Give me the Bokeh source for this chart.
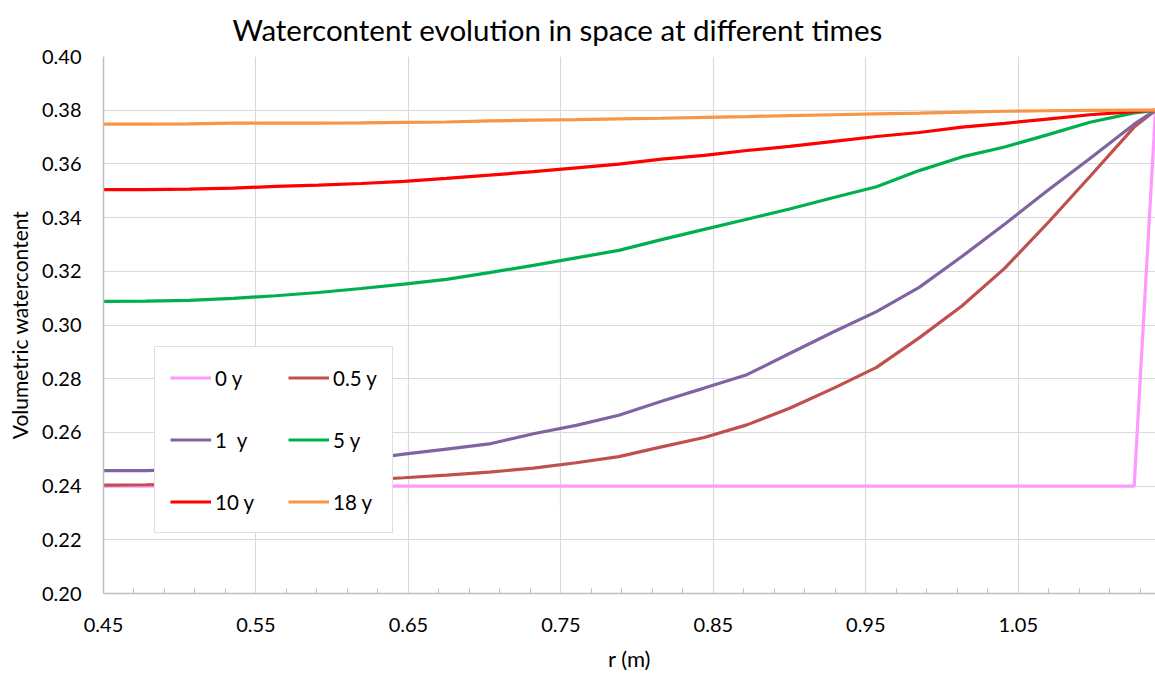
from bokeh.plotting import figure
from bokeh.models import Range1d, FixedTicker, PrintfTickFormatter, Legend, LegendItem
from bokeh.embed import file_html
from bokeh.resources import INLINE

# radial position (m)
r_m = [0.450, 0.478, 0.506, 0.535, 0.563, 0.591, 0.619, 0.647, 0.675, 0.703,
       0.732, 0.760, 0.788, 0.816, 0.844, 0.872, 0.900, 0.929, 0.957, 0.985,
       1.013, 1.041, 1.069, 1.097, 1.126, 1.140]

wc_0y = [0.2400, 0.2400, 0.2400, 0.2400, 0.2400, 0.2400, 0.2400, 0.2400, 0.2400, 0.2400,
         0.2400, 0.2400, 0.2400, 0.2400, 0.2400, 0.2400, 0.2400, 0.2400, 0.2400, 0.2400,
         0.2400, 0.2400, 0.2400, 0.2400, 0.2400, 0.3800]

wc_05y = [0.2404, 0.2405, 0.2407, 0.2410, 0.2413, 0.2417, 0.2422, 0.2431, 0.2441, 0.2452,
          0.2467, 0.2487, 0.2510, 0.2546, 0.2581, 0.2628, 0.2690, 0.2765, 0.2842, 0.2952,
          0.3071, 0.3211, 0.3378, 0.3553, 0.3737, 0.3800]

wc_1y = [0.2458, 0.2458, 0.2462, 0.2468, 0.2476, 0.2486, 0.2498, 0.2519, 0.2538, 0.2557,
         0.2595, 0.2626, 0.2664, 0.2716, 0.2765, 0.2815, 0.2894, 0.2975, 0.3050, 0.3140,
         0.3255, 0.3375, 0.3500, 0.3620, 0.3748, 0.3800]

wc_5y = [0.3088, 0.3089, 0.3092, 0.3099, 0.3109, 0.3121, 0.3136, 0.3152, 0.3170, 0.3195,
         0.3222, 0.3250, 0.3278, 0.3318, 0.3356, 0.3394, 0.3432, 0.3475, 0.3515, 0.3575,
         0.3626, 0.3663, 0.3708, 0.3755, 0.3790, 0.3800]

wc_10y = [0.3504, 0.3504, 0.3506, 0.3510, 0.3516, 0.3521, 0.3527, 0.3535, 0.3546, 0.3558,
          0.3571, 0.3585, 0.3599, 0.3618, 0.3632, 0.3650, 0.3665, 0.3684, 0.3702, 0.3717,
          0.3737, 0.3751, 0.3767, 0.3783, 0.3795, 0.3800]

wc_18y = [0.3748, 0.3748, 0.3749, 0.3752, 0.3752, 0.3752, 0.3753, 0.3755, 0.3756, 0.3760,
          0.3763, 0.3765, 0.3768, 0.3770, 0.3773, 0.3776, 0.3780, 0.3783, 0.3786, 0.3789,
          0.3793, 0.3796, 0.3798, 0.3799, 0.3800, 0.3800]

series_labels = ["0 y", "0.5 y", "1  y", "5 y", "10 y", "18 y"]
series_colors = ["#FF99FF", "#C0504D", "#8064A2", "#00B050", "#FF0000", "#F79646"]
series_values = [wc_0y, wc_05y, wc_1y, wc_5y, wc_10y, wc_18y]

x_ticks = [0.45, 0.55, 0.65, 0.75, 0.85, 0.95, 1.05]
x_minor = [0.47, 0.49, 0.51, 0.53, 0.57, 0.59, 0.61, 0.63, 0.67, 0.69, 0.71, 0.73,
           0.77, 0.79, 0.81, 0.83, 0.87, 0.89, 0.91, 0.93, 0.97, 0.99, 1.01, 1.03,
           1.07, 1.09, 1.11, 1.13]
y_ticks = [0.20, 0.22, 0.24, 0.26, 0.28, 0.30, 0.32, 0.34, 0.36, 0.38, 0.40]

FONT = "Lato"

p = figure(width=1155, height=674, output_backend="svg", toolbar_location=None,
           x_range=Range1d(0.45, 1.14), y_range=Range1d(0.20, 0.40),
           min_border_left=103, min_border_right=0, min_border_top=56, min_border_bottom=81,
           title="Watercontent evolution in space at different times")
p.outline_line_color = None
p.background_fill_color = "white"
p.border_fill_color = "white"

p.title.text_font = FONT
p.title.text_font_size = "29.5px"
p.title.text_font_style = "normal"
p.title.text_color = "black"
p.title.align = "left"
p.title.offset = 129
p.title.vertical_align = "top"
p.title.text_line_height = 0.6
p.title.standoff = 16

renderers = []
for vals, col in zip(series_values, series_colors):
    renderers.append(p.line(r_m, vals, line_color=col, line_width=3.2))

p.xaxis.ticker = FixedTicker(ticks=x_ticks, minor_ticks=x_minor)
p.yaxis.ticker = FixedTicker(ticks=y_ticks)
p.xaxis.formatter = PrintfTickFormatter(format="%.2f")
p.yaxis.formatter = PrintfTickFormatter(format="%.2f")

for ax in (p.xaxis, p.yaxis):
    ax.axis_line_color = "#BFBFBF"
    ax.axis_line_width = 1.5
    ax.major_tick_in = 0
    ax.major_tick_out = 0
    ax.major_label_text_font = FONT
    ax.major_label_text_font_size = "20px"
    ax.major_label_text_color = "black"
    ax.axis_label_text_font = FONT
    ax.axis_label_text_font_style = "normal"
    ax.axis_label_text_color = "black"

p.xaxis.axis_label_text_font_size = "22px"
p.yaxis.axis_label_text_font_size = "21px"
p.xaxis.minor_tick_in = 5
p.xaxis.minor_tick_out = 0
p.xaxis.minor_tick_line_color = "#BFBFBF"
p.yaxis.minor_tick_in = 0
p.yaxis.minor_tick_out = 0
p.xaxis.major_label_standoff = 24
p.yaxis.major_label_standoff = 22
p.xaxis.axis_label = "r (m)"
p.yaxis.axis_label = "Volumetric watercontent"
p.xaxis.axis_label_standoff = 10
p.yaxis.axis_label_standoff = 7

p.xgrid.grid_line_color = "#D9D9D9"
p.ygrid.grid_line_color = "#D9D9D9"
p.xgrid.grid_line_width = 1.2
p.ygrid.grid_line_width = 1.2

legend = Legend(items=[LegendItem(label=l, renderers=[r]) for l, r in zip(series_labels, renderers)],
                location=(51, 60), orientation="horizontal", ncols=2)
legend.label_text_font = FONT
legend.label_text_font_size = "20.5px"
legend.label_text_color = "black"
legend.glyph_width = 41
legend.glyph_height = 31
legend.label_height = 31
legend.label_width = 42
legend.label_standoff = 4
legend.spacing = 31
legend.padding = 15
legend.margin = 0
legend.border_line_color = "#BFBFBF"
legend.border_line_width = 1.5
legend.background_fill_color = "white"
legend.background_fill_alpha = 1.0
p.add_layout(legend)

open("out.html", "w").write(file_html(p, INLINE))
